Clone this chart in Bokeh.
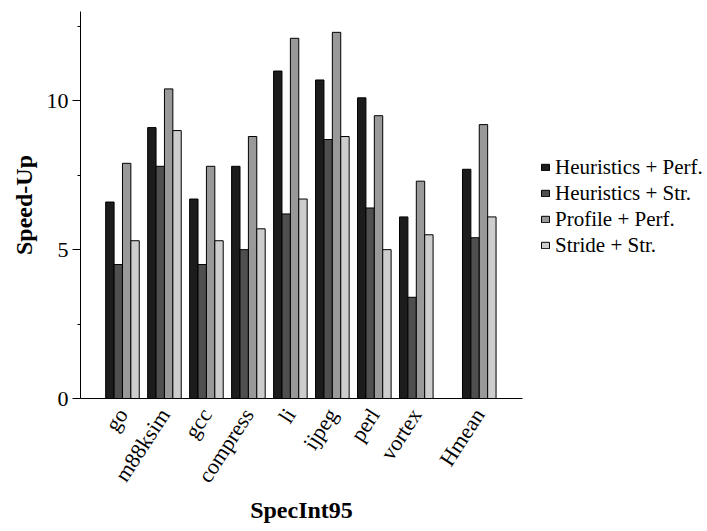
import math
from bokeh.plotting import figure
from bokeh.models import Range1d, FixedTicker, Legend, LegendItem, ColumnDataSource
from bokeh.embed import file_html
from bokeh.resources import INLINE

benchmarks = ["go", "m88ksim", "gcc", "compress", "li", "ijpeg", "perl", "vortex", "Hmean"]
positions = [1, 2, 3, 4, 5, 6, 7, 8, 9.5]
series_names = ["Heuristics + Perf.", "Heuristics + Str.", "Profile + Perf.", "Stride + Str."]
heur_perf = [6.6, 9.1, 6.7, 7.8, 11.0, 10.7, 10.1, 6.1, 7.7]
heur_str = [4.5, 7.8, 4.5, 5.0, 6.2, 8.7, 6.4, 3.4, 5.4]
prof_perf = [7.9, 10.4, 7.8, 8.8, 12.1, 12.3, 9.5, 7.3, 9.2]
stride_str = [5.3, 9.0, 5.3, 5.7, 6.7, 8.8, 5.0, 5.5, 6.1]
colors = ["#1c1c1c", "#4f4f4f", "#999999", "#cdcdcd"]
y_ticks = [0, 5, 10]
y_minor = [2.5, 7.5, 12.5]

FONT = "Liberation Serif"

p = figure(frame_width=442, frame_height=387, output_backend="svg", toolbar_location=None,
           x_range=Range1d(0, 10.53), y_range=Range1d(0, 13),
           min_border_left=80, min_border_right=185, min_border_top=11, min_border_bottom=133)
p.outline_line_color = None
p.xgrid.grid_line_color = None
p.ygrid.grid_line_color = None
p.background_fill_color = "white"
p.border_fill_color = "white"

all_series = [heur_perf, heur_str, prof_perf, stride_str]
offsets = [-0.3, -0.1, 0.1, 0.3]
items = []
for name, vals, col, off in zip(series_names, all_series, colors, offsets):
    src = ColumnDataSource(dict(x=[x + off for x in positions], top=vals))
    r = p.vbar(x="x", top="top", width=0.2, bottom=0, source=src,
               fill_color=col, line_color="black", line_width=1)
    items.append(LegendItem(label=name, renderers=[r]))

legend = Legend(items=items, location=(18, 140), border_line_color=None,
                background_fill_alpha=0, padding=0, margin=0, spacing=0,
                glyph_width=10, glyph_height=8, label_standoff=5, label_height=26,
                label_text_font=FONT, label_text_font_size="21px",
                label_text_color="black")
p.add_layout(legend, "right")

# x axis
p.xaxis.ticker = FixedTicker(ticks=positions)
p.xaxis.major_label_overrides = {pos: b for pos, b in zip(positions, benchmarks)}
p.xaxis.major_label_orientation = math.radians(57)
p.xaxis.major_tick_line_color = None
p.xaxis.minor_tick_line_color = None
p.xaxis.major_label_text_font = FONT
p.xaxis.major_label_text_font_size = "22px"
p.xaxis.major_label_text_color = "black"
p.xaxis.major_label_standoff = 6
p.xaxis.axis_label = "SpecInt95"
p.xaxis.axis_label_text_font = FONT
p.xaxis.axis_label_text_font_style = "bold"
p.xaxis.axis_label_text_font_size = "24px"
p.xaxis.axis_label_text_color = "black"
p.xaxis.axis_label_standoff = 0
p.xaxis.axis_line_color = "black"

# y axis
p.yaxis.ticker = FixedTicker(ticks=y_ticks, minor_ticks=y_minor)
p.yaxis.major_tick_out = 8
p.yaxis.major_tick_in = 0
p.yaxis.minor_tick_out = 3
p.yaxis.minor_tick_in = 0
p.yaxis.major_label_text_font = FONT
p.yaxis.major_label_text_font_size = "22px"
p.yaxis.major_label_text_color = "black"
p.yaxis.major_label_standoff = 4
p.yaxis.axis_label = "Speed-Up"
p.yaxis.axis_label_text_font = FONT
p.yaxis.axis_label_text_font_style = "bold"
p.yaxis.axis_label_text_font_size = "24px"
p.yaxis.axis_label_text_color = "black"
p.yaxis.axis_label_standoff = 7
p.yaxis.axis_line_color = "black"

open("out.html", "w").write(file_html(p, INLINE))
